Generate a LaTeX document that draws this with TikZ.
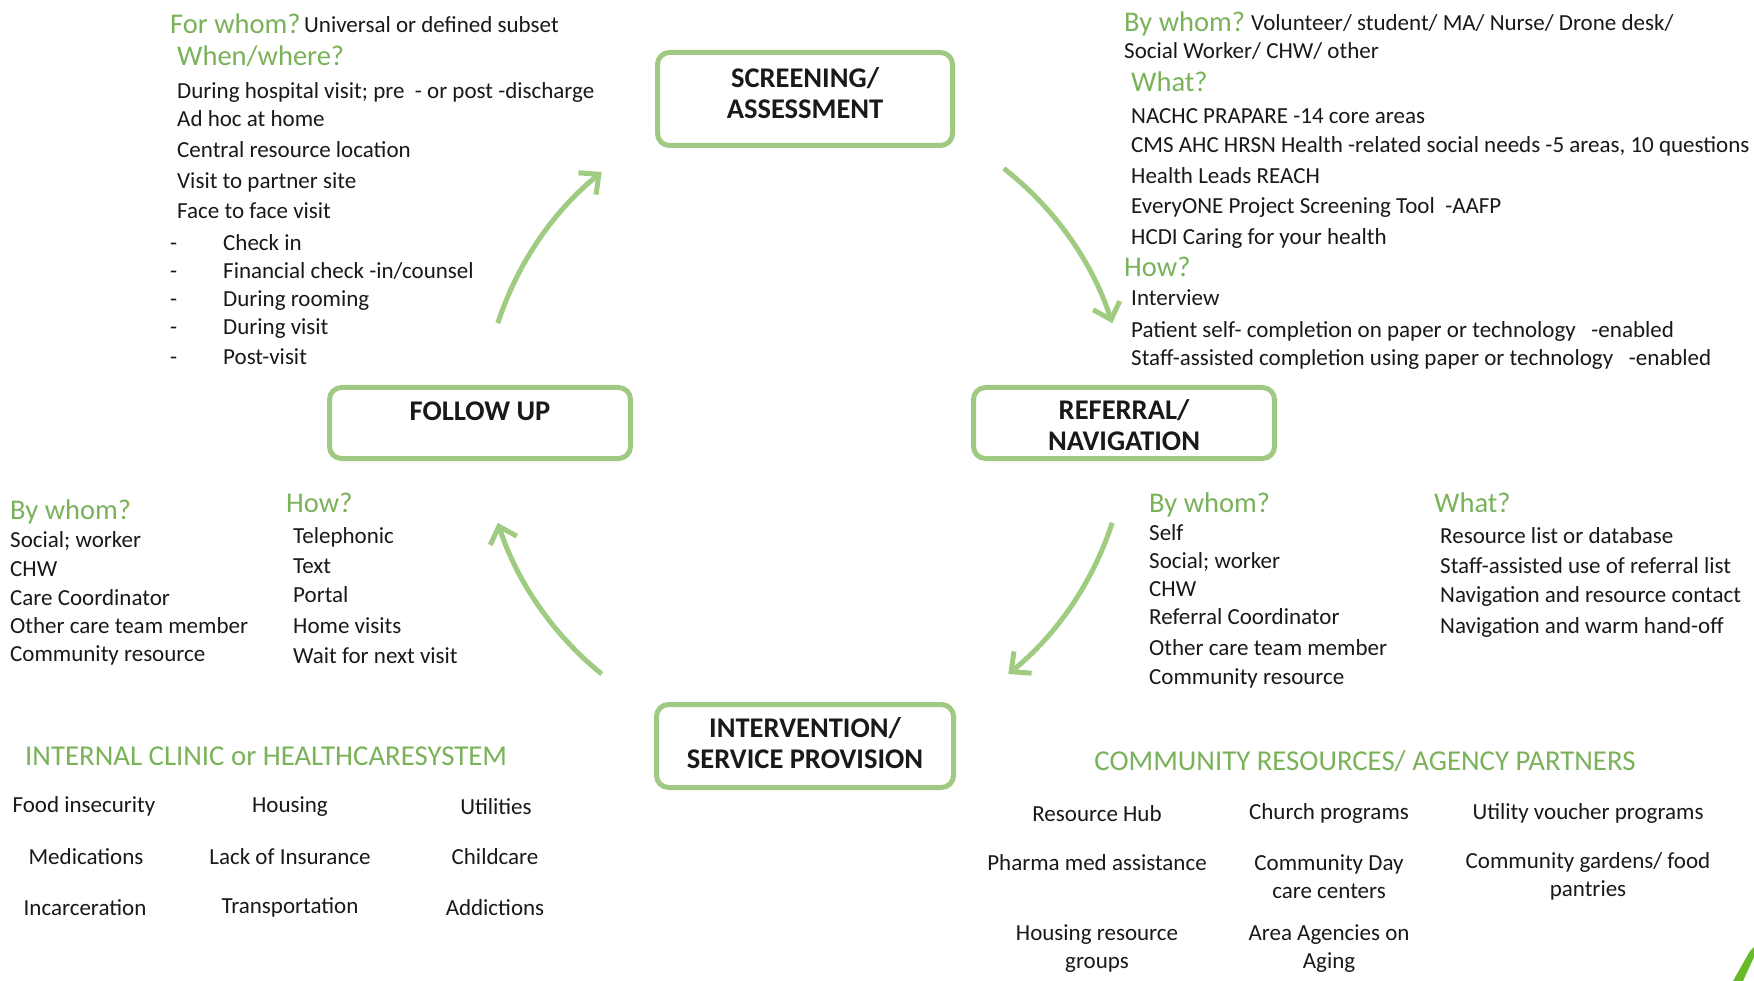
\documentclass[tikz,border=0pt]{standalone}
\usepackage{fontspec}
\setmainfont{Carlito}
\usetikzlibrary{arrows.meta}
\definecolor{hdgreen}{RGB}{122,178,90}
\definecolor{boxgreen}{RGB}{160,202,132}
\definecolor{arrgreen}{RGB}{160,204,130}
\definecolor{ink}{RGB}{25,25,25}
\definecolor{leaf}{RGB}{104,186,40}
\begin{document}
\begin{tikzpicture}[x=1pt,y=-1pt,
  body/.style={anchor=west,inner sep=0pt,yshift=-2pt,text=ink,text height=16.5pt,text depth=4.5pt,font=\fontsize{23}{27}\selectfont},
  small/.style={body},
  head/.style={anchor=west,inner sep=0pt,yshift=-2.5pt,text=hdgreen,text height=20pt,text depth=6pt,font=\fontsize{28.5}{33}\selectfont},
  cell/.style={anchor=center,inner sep=0pt,yshift=-1.5pt,text=ink,align=center,font=\fontsize{23}{28}\selectfont},
  title/.style={anchor=center,inner sep=0pt,text=hdgreen,font=\fontsize{28.8}{33}\selectfont},
  stage/.style={draw=boxgreen,line width=5pt,rounded corners=12pt,fill=white,inner sep=0pt},
  stagetext/.style={anchor=center,inner sep=0pt,text=ink,align=center,font=\bfseries\fontsize{28.5}{31}\selectfont},
  cyc/.style={draw=arrgreen,line width=5pt,-{Straight Barb[length=15pt,width=28pt]}},
]
\fill[white] (0,0) rectangle (1754,981);
\useasboundingbox (0,0) rectangle (1754,981);

% ---- the four stages of the cycle ----
\node[stage,minimum width=295pt,minimum height=93pt] (scr) at (805,99) {};
\node[stagetext] (scrt) at (805,93) {SCREENING/\\ASSESSMENT};
\node[stage,minimum width=301pt,minimum height=71pt] (ref) at (1124,423) {};
\node[stagetext] (reft) at (1124,425) {REFERRAL/\\NAVIGATION};
\node[stage,minimum width=297pt,minimum height=83pt] (int) at (805,746) {};
\node[stagetext] (intt) at (805,743) {INTERVENTION/\\SERVICE PROVISION};
\node[stage,minimum width=301pt,minimum height=71pt] (fol) at (480,423) {};
\node[stagetext] (folt) at (480,411) {FOLLOW UP};

% ---- cycle arrows (arcs round the hub) ----
\coordinate (hub) at (805,423);
\coordinate (a1) at ([shift={(-52:323)}]hub);
\coordinate (a2) at ([shift={(18:323)}]hub);
\coordinate (a3) at ([shift={(129:323)}]hub);
\coordinate (a4) at ([shift={(198:323)}]hub);
\draw[cyc] (a1) arc[start angle=-52,end angle=-18,radius=323];
\draw[cyc] (a2) arc[start angle=18,end angle=51,radius=323];
\draw[cyc] (a3) arc[start angle=129,end angle=162,radius=323];
\draw[cyc] (a4) arc[start angle=198,end angle=231,radius=323];

% ---- screening: for whom / when, where ----
\node[head] (fw) at (170,24) {For whom?};
\node[small] (fwt) at (304,25) {Universal or defined subset};
\node[head] (ww) at (177,56) {When/where?};
\node[body] (w1) at (177,91) {During hospital visit; pre\ \ - or post -discharge};
\node[body] (w2) at (177,119) {Ad hoc at home};
\node[body] (w3) at (177,150) {Central resource location};
\node[body] (w4) at (177,181) {Visit to partner site};
\node[body] (w5) at (177,211) {Face to face visit};
\node[body] (d1) at (170,243) {-};
\node[body] (v1) at (223,243) {Check in};
\node[body] (d2) at (170,271) {-};
\node[body] (v2) at (223,271) {Financial check -in/counsel};
\node[body] (d3) at (170,299) {-};
\node[body] (v3) at (223,299) {During rooming};
\node[body] (d4) at (170,327) {-};
\node[body] (v4) at (223,327) {During visit};
\node[body] (d5) at (170,357) {-};
\node[body] (v5) at (223,357) {Post-visit};

% ---- screening: by whom / what / how ----
\node[head] (bw) at (1124,22) {By whom?};
\node[small] (bwt) at (1251,23) {Volunteer/ student/ MA/ Nurse/ Drone desk/};
\node[small] (bw2) at (1124,51) {Social Worker/ CHW/ other};
\node[head] (wh) at (1131,82) {What?};
\node[small] (t1) at (1131,116) {NACHC PRAPARE -14 core areas};
\node[small] (t2) at (1131,145) {CMS AHC HRSN Health -related social needs -5 areas, 10 questions};
\node[small] (t3) at (1131,176) {Health Leads REACH};
\node[small] (t4) at (1131,206) {EveryONE Project Screening Tool\ \ -AAFP};
\node[small] (t5) at (1131,237) {HCDI Caring for your health};
\node[head] (hw) at (1124,267) {How?};
\node[small] (h1) at (1131,298) {Interview};
\node[small] (h2) at (1131,330) {Patient self- completion on paper or technology\ \ \ -enabled};
\node[small] (h3) at (1131,358) {Staff-assisted completion using paper or technology\ \ \ -enabled};

% ---- follow up ----
\node[head] (fbw) at (10,510) {By whom?};
\node[body] (fb1) at (10,539) {Social; worker};
\node[body] (fb2) at (10,568) {CHW};
\node[body] (fb3) at (10,597) {Care Coordinator};
\node[body] (fb4) at (10,625) {Other care team member};
\node[body] (fb5) at (10,653) {Community resource};
\node[head] (fhw) at (286,503) {How?};
\node[body] (fh1) at (293,535) {Telephonic};
\node[body] (fh2) at (293,565) {Text};
\node[body] (fh3) at (293,594) {Portal};
\node[body] (fh4) at (293,625) {Home visits};
\node[body] (fh5) at (293,655) {Wait for next visit};

% ---- referral / navigation ----
\node[head] (rbw) at (1149,503) {By whom?};
\node[body] (rb1) at (1149,532) {Self};
\node[body] (rb2) at (1149,560) {Social; worker};
\node[body] (rb3) at (1149,588) {CHW};
\node[body] (rb4) at (1149,616) {Referral Coordinator};
\node[body] (rb5) at (1149,647) {Other care team member};
\node[body] (rb6) at (1149,676) {Community resource};
\node[head] (rwh) at (1434,503) {What?};
\node[body] (rw1) at (1440,535) {Resource list or database};
\node[body] (rw2) at (1440,565) {Staff-assisted use of referral list};
\node[body] (rw3) at (1440,594) {Navigation and resource contact};
\node[body] (rw4) at (1440,625) {Navigation and warm hand-off};

% ---- internal clinic needs ----
\node[title,anchor=west] (icl) at (25,756) {INTERNAL CLINIC or HEALTHCARESYSTEM};
\node[cell] (c11) at (84,805) {Food insecurity};
\node[cell] (c12) at (290,805) {Housing};
\node[cell] (c13) at (496,805) {Utilities};
\node[cell] (c21) at (86,855) {Medications};
\node[cell] (c22) at (290,855) {Lack of Insurance};
\node[cell] (c23) at (495,855) {Childcare};
\node[cell] (c31) at (85,906) {Incarceration};
\node[cell] (c32) at (290,906) {Transportation};
\node[cell] (c33) at (495,906) {Addictions};

% ---- community partners ----
\node[title] (cmt) at (1365,761) {COMMUNITY RESOURCES/ AGENCY PARTNERS};
\node[cell] (p11) at (1097,812) {Resource Hub};
\node[cell] (p12) at (1329,812) {Church programs};
\node[cell] (p13) at (1588,812) {Utility voucher programs};
\node[cell] (p21) at (1097,861) {Pharma med assistance};
\node[cell] (p22) at (1329,875) {Community Day\\care centers};
\node[cell] (p23) at (1588,875) {Community gardens/ food\\pantries};
\node[cell] (p31) at (1097,947) {Housing resource\\groups};
\node[cell] (p32) at (1329,947) {Area Agencies on\\Aging};

% ---- corner accent ----
\fill[leaf] (1733,981) -- (1750,951) -- (1754,947) -- (1754,957) -- (1743,981) -- cycle;
\end{tikzpicture}
\end{document}
